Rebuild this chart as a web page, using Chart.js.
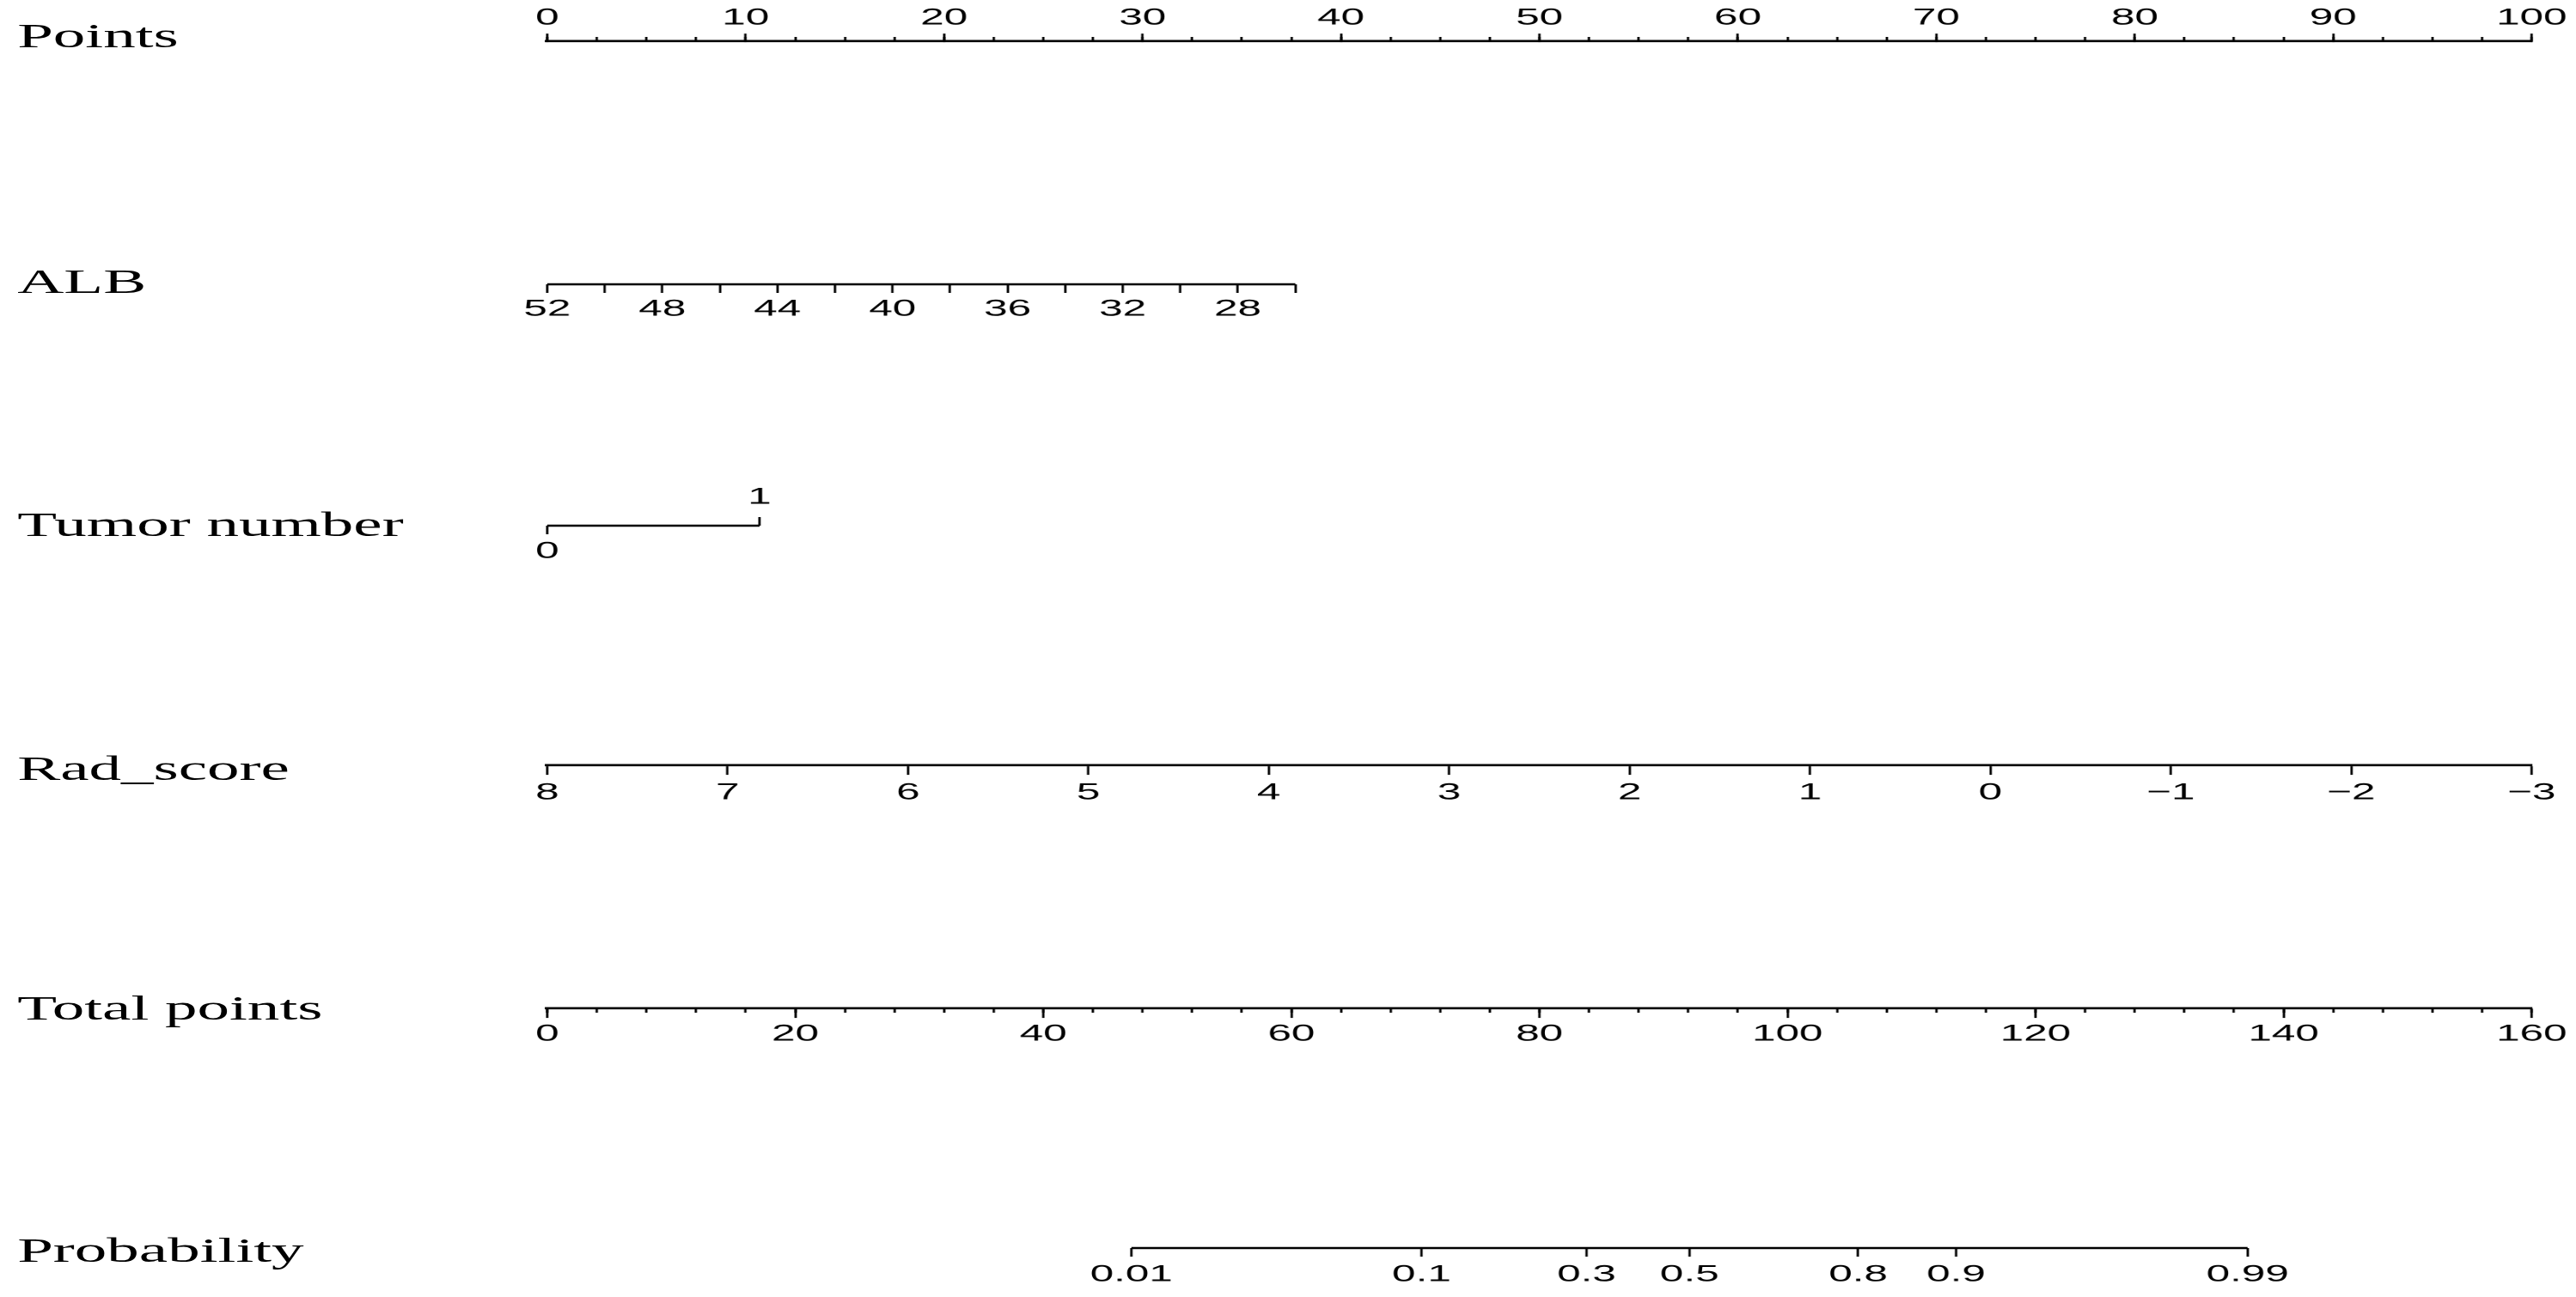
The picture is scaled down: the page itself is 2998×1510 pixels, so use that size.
<!DOCTYPE html>
<html>
<head>
<meta charset="utf-8">
<script src="https://cdn.jsdelivr.net/npm/chart.js@4.4.0/dist/chart.umd.min.js"></script>
<style>
  html, body { margin: 0; padding: 0; background: #fff; overflow: hidden; }
  /* the reference picture is stretched sideways, so the whole drawing is too */
  #wrap { position: absolute; left: 0; top: 0; width: 1638px; height: 1510px; transform: scaleX(1.83); transform-origin: 0 0; }
  #wrap canvas { position: absolute; left: 0; top: 0; }
  .row-title { position: absolute; left: 11px; font-family: 'Liberation Serif', 'Times New Roman', serif; font-size: 41px; line-height: 40px; color: #000; white-space: nowrap; }
</style>
</head>
<body>
<div id="wrap">
  <canvas id="nomo" width="1638" height="1510"></canvas>
</div>
<script>
// nomogram rows
const rowNames = ['Points', 'ALB', 'Tumor number', 'Rad_score', 'Total points', 'Probability'];

const pointsTicks = [0, 10, 20, 30, 40, 50, 60, 70, 80, 90, 100];
const albTicks = [52, 50, 48, 46, 44, 42, 40, 38, 36, 34, 32, 30, 28, 26];
const albLabels = [52, 48, 44, 40, 36, 32, 28];
const albMaxPoints = 37.7;      // ALB 26 sits here on the Points scale
const tumorTicks = [0, 1];
const tumorMaxPoints = 10.7;    // Tumor number 1 on the Points scale
const radTicks = [8, 7, 6, 5, 4, 3, 2, 1, 0, -1, -2, -3];
const totalTicks = [0, 20, 40, 60, 80, 100, 120, 140, 160];
const probLabels = [0.01, 0.1, 0.3, 0.5, 0.8, 0.9, 0.99];
const probTotals = [47.1, 70.5, 83.8, 92.1, 105.7, 113.6, 137.1];

// layout
const W = 1638, H = 1510;
const rowY = [48, 331, 612, 891, 1174, 1453];
const titleY = [41, 327, 610, 894, 1173, 1455];
const FS = 27;
const tickFont = { family: "'Liberation Sans', Arial, sans-serif", size: FS };
const LH = FS * 1.2;

const albFar = albTicks[0] - (albTicks[0] - albTicks[albTicks.length - 1]) * 100 / albMaxPoints;
const tumorFar = tumorTicks[1] * 100 / tumorMaxPoints;

const wrap = document.getElementById('wrap');
rowNames.forEach((name, i) => {
  const d = document.createElement('div');
  d.className = 'row-title';
  d.textContent = name;
  d.style.top = (titleY[i] - 20) + 'px';
  wrap.appendChild(d);
});

const axis = (row, o) => ({
  axis: 'x',
  type: 'linear',
  position: { y: rowY[row] },
  min: o.min,
  max: o.max,
  reverse: !!o.reverse,
  bounds: 'data',
  offset: false,
  border: { display: !!o.border, color: '#000', width: 2.6 },
  grid: {
    display: true, drawOnChartArea: false, drawTicks: true,
    tickLength: o.tickLen, tickWidth: 1.5, tickColor: '#000', offset: false
  },
  ticks: {
    display: o.labels !== false,
    autoSkip: false, maxRotation: 0, minRotation: 0,
    color: '#000', font: tickFont,
    padding: o.labels === false ? 0 : o.labelOffset - o.tickLen - LH / 2,
    stepSize: o.step,
    callback: o.callback || ((v) => String(v))
  },
  afterBuildTicks: o.values ? (s) => { s.ticks = o.values.map((v) => ({ value: v })); } : undefined
});

const segment = (axisId, row, from, to) => ({
  xAxisID: axisId,
  yAxisID: 'y',
  data: [{ x: from, y: rowY[row] }, { x: to, y: rowY[row] }],
  showLine: true,
  borderColor: '#000',
  borderWidth: 2.6,
  pointRadius: 0,
  pointHoverRadius: 0
});

new Chart(document.getElementById('nomo'), {
  type: 'scatter',
  data: {
    datasets: [
      segment('alb', 1, albTicks[0], albTicks[albTicks.length - 1]),
      segment('tum0', 2, tumorTicks[0], tumorTicks[1]),
      segment('prob', 5, probTotals[0], probTotals[probTotals.length - 1])
    ]
  },
  options: {
    responsive: false,
    devicePixelRatio: 2,
    animation: false,
    events: [],
    layout: { padding: { left: 348, right: 28, top: 0, bottom: 0 } },
    plugins: { legend: { display: false }, tooltip: { enabled: false } },
    scales: {
      y: { type: 'linear', display: false, min: 0, max: H, reverse: true },
      pts: axis(0, { min: 0, max: 100, values: pointsTicks, tickLen: -10, labelOffset: -27, border: true }),
      ptsMinor: axis(0, { min: 0, max: 100, step: 2.5, tickLen: -5, labels: false }),
      alb: axis(1, {
        min: albFar, max: albTicks[0], reverse: true, values: albTicks, tickLen: 10, labelOffset: 29,
        callback: (v) => (albLabels.includes(v) ? String(v) : '')
      }),
      tum0: axis(2, { min: 0, max: tumorFar, values: [tumorTicks[0]], tickLen: 10, labelOffset: 30 }),
      tum1: axis(2, { min: 0, max: tumorFar, values: [tumorTicks[1]], tickLen: -10, labelOffset: -33 }),
      rad: axis(3, {
        min: radTicks[radTicks.length - 1], max: radTicks[0], reverse: true, values: radTicks,
        tickLen: 10, labelOffset: 32, border: true,
        callback: (v) => (v < 0 ? '\u2212' + Math.abs(v) : String(v))
      }),
      tot: axis(4, { min: 0, max: 160, values: totalTicks, tickLen: 10, labelOffset: 30, border: true }),
      totMinor: axis(4, { min: 0, max: 160, step: 4, tickLen: 5, labels: false }),
      prob: axis(5, {
        min: 0, max: 160, values: probTotals, tickLen: 10, labelOffset: 31,
        callback: (v, i) => String(probLabels[i])
      })
    }
  }
});
</script>
</body>
</html>
